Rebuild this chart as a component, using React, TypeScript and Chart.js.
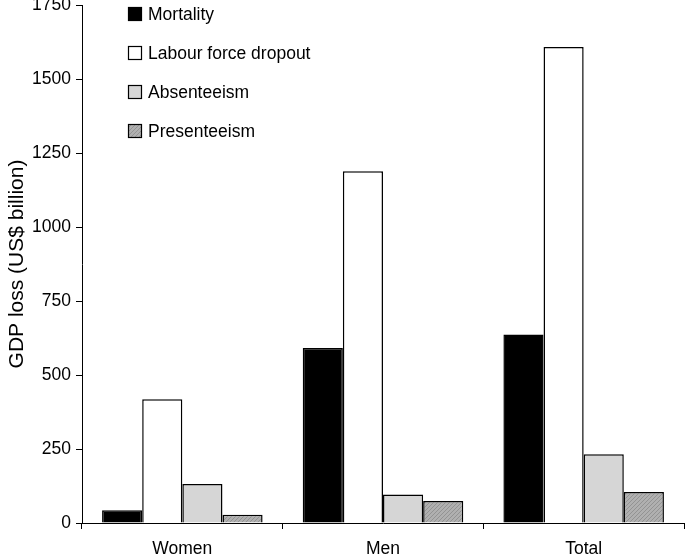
import React, { useEffect, useRef } from "react";
import { Chart, registerables } from "chart.js";

Chart.register(...registerables);

const categories = ["Women", "Men", "Total"];
const seriesNames = ["Mortality", "Labour force dropout", "Absenteeism", "Presenteeism"];
const mortality = [43, 591, 637];
const labourForceDropout = [418, 1188, 1608];
const absenteeism = [132, 96, 232];
const presenteeism = [28, 74, 105];
const yTicks = [0, 250, 500, 750, 1000, 1250, 1500, 1750];
const yTitle = "GDP loss (US$ billion)";

function makeHatch(): CanvasPattern | string {
  const c = document.createElement("canvas");
  c.width = 4;
  c.height = 4;
  const g = c.getContext("2d");
  if (!g) return "#a8a8a8";
  g.fillStyle = "#b0b0b0";
  g.fillRect(0, 0, 4, 4);
  g.strokeStyle = "#939393";
  g.lineWidth = 1;
  g.beginPath();
  g.moveTo(0, 4);
  g.lineTo(4, 0);
  g.moveTo(-1, 1);
  g.lineTo(1, -1);
  g.moveTo(3, 5);
  g.lineTo(5, 3);
  g.stroke();
  const p = g.createPattern(c, "repeat");
  return p || "#a8a8a8";
}

const legendPlugin = {
  id: "insideLegend",
  afterDraw(chart: any) {
    const ctx = chart.ctx;
    ctx.save();
    ctx.font = "17.5px 'Liberation Sans', Arial, sans-serif";
    ctx.textBaseline = "middle";
    ctx.textAlign = "left";
    chart.data.datasets.forEach((ds: any, i: number) => {
      const cy = 14 + i * 39;
      const bx = 128.5;
      const size = 13;
      ctx.fillStyle = ds.backgroundColor;
      ctx.fillRect(bx, cy - size / 2, size, size);
      ctx.strokeStyle = "#000";
      ctx.lineWidth = 1.2;
      ctx.strokeRect(bx, cy - size / 2, size, size);
      ctx.fillStyle = "#000";
      ctx.fillText(ds.label, 148, cy + 1);
    });
    ctx.restore();
  },
};

export default function App() {
  const ref = useRef<HTMLCanvasElement | null>(null);

  useEffect(() => {
    if (!ref.current) return;
    Chart.defaults.font.family = "'Liberation Sans', Arial, sans-serif";
    Chart.defaults.color = "#000";
    const hatch = makeHatch();
    const fills = ["#000000", "#ffffff", "#d6d6d6", hatch];
    const values = [mortality, labourForceDropout, absenteeism, presenteeism];
    const chart = new Chart(ref.current, {
      type: "bar",
      data: {
        labels: categories,
        datasets: seriesNames.map((name, i) => ({
          label: name,
          data: values[i],
          backgroundColor: fills[i] as any,
          borderColor: "#000",
          borderWidth: 1.5,
          borderSkipped: "bottom",
          categoryPercentage: 0.8,
          barPercentage: 1.0,
        })),
      },
      options: {
        animation: false,
        responsive: false,
        maintainAspectRatio: false,
        layout: { padding: { top: 5, right: 1, left: 0, bottom: 0 } },
        plugins: {
          legend: { display: false },
          tooltip: { enabled: false },
        },
        scales: {
          x: {
            offset: true,
            grid: {
              display: true,
              offset: true,
              drawOnChartArea: false,
              drawTicks: true,
              tickLength: 6,
              color: "#000",
            },
            border: { display: true, color: "#000", width: 1 },
            ticks: { font: { size: 17.5 }, padding: 10, color: "#000" },
            afterFit(scale: any) {
              scale.height = 36;
              scale.paddingLeft = 0;
              scale.paddingRight = 0;
            },
          },
          y: {
            min: 0,
            max: 1750,
            afterBuildTicks(scale: any) {
              scale.ticks = yTicks.map((v) => ({ value: v }));
            },
            grid: {
              display: true,
              drawOnChartArea: false,
              drawTicks: true,
              tickLength: 6,
              color: "#000",
            },
            border: { display: true, color: "#000", width: 1 },
            ticks: {
              font: { size: 17.5 },
              padding: 5,
              color: "#000",
              callback: (v: any) => String(v),
            },
            title: {
              display: true,
              text: yTitle,
              font: { size: 21 },
              color: "#000",
              padding: { top: 5, bottom: 0 },
            },
            afterFit(scale: any) {
              scale.width = 82;
              scale.paddingTop = 0;
              scale.paddingBottom = 0;
            },
          },
        },
      },
      plugins: [legendPlugin],
    });
    return () => chart.destroy();
  }, []);

  return (
    <div style={{ position: "fixed", left: 0, top: 0, width: 685, height: 559, background: "#fff" }}>
      <canvas ref={ref} width={685} height={559} style={{ width: 685, height: 559, display: "block" }} />
    </div>
  );
}
